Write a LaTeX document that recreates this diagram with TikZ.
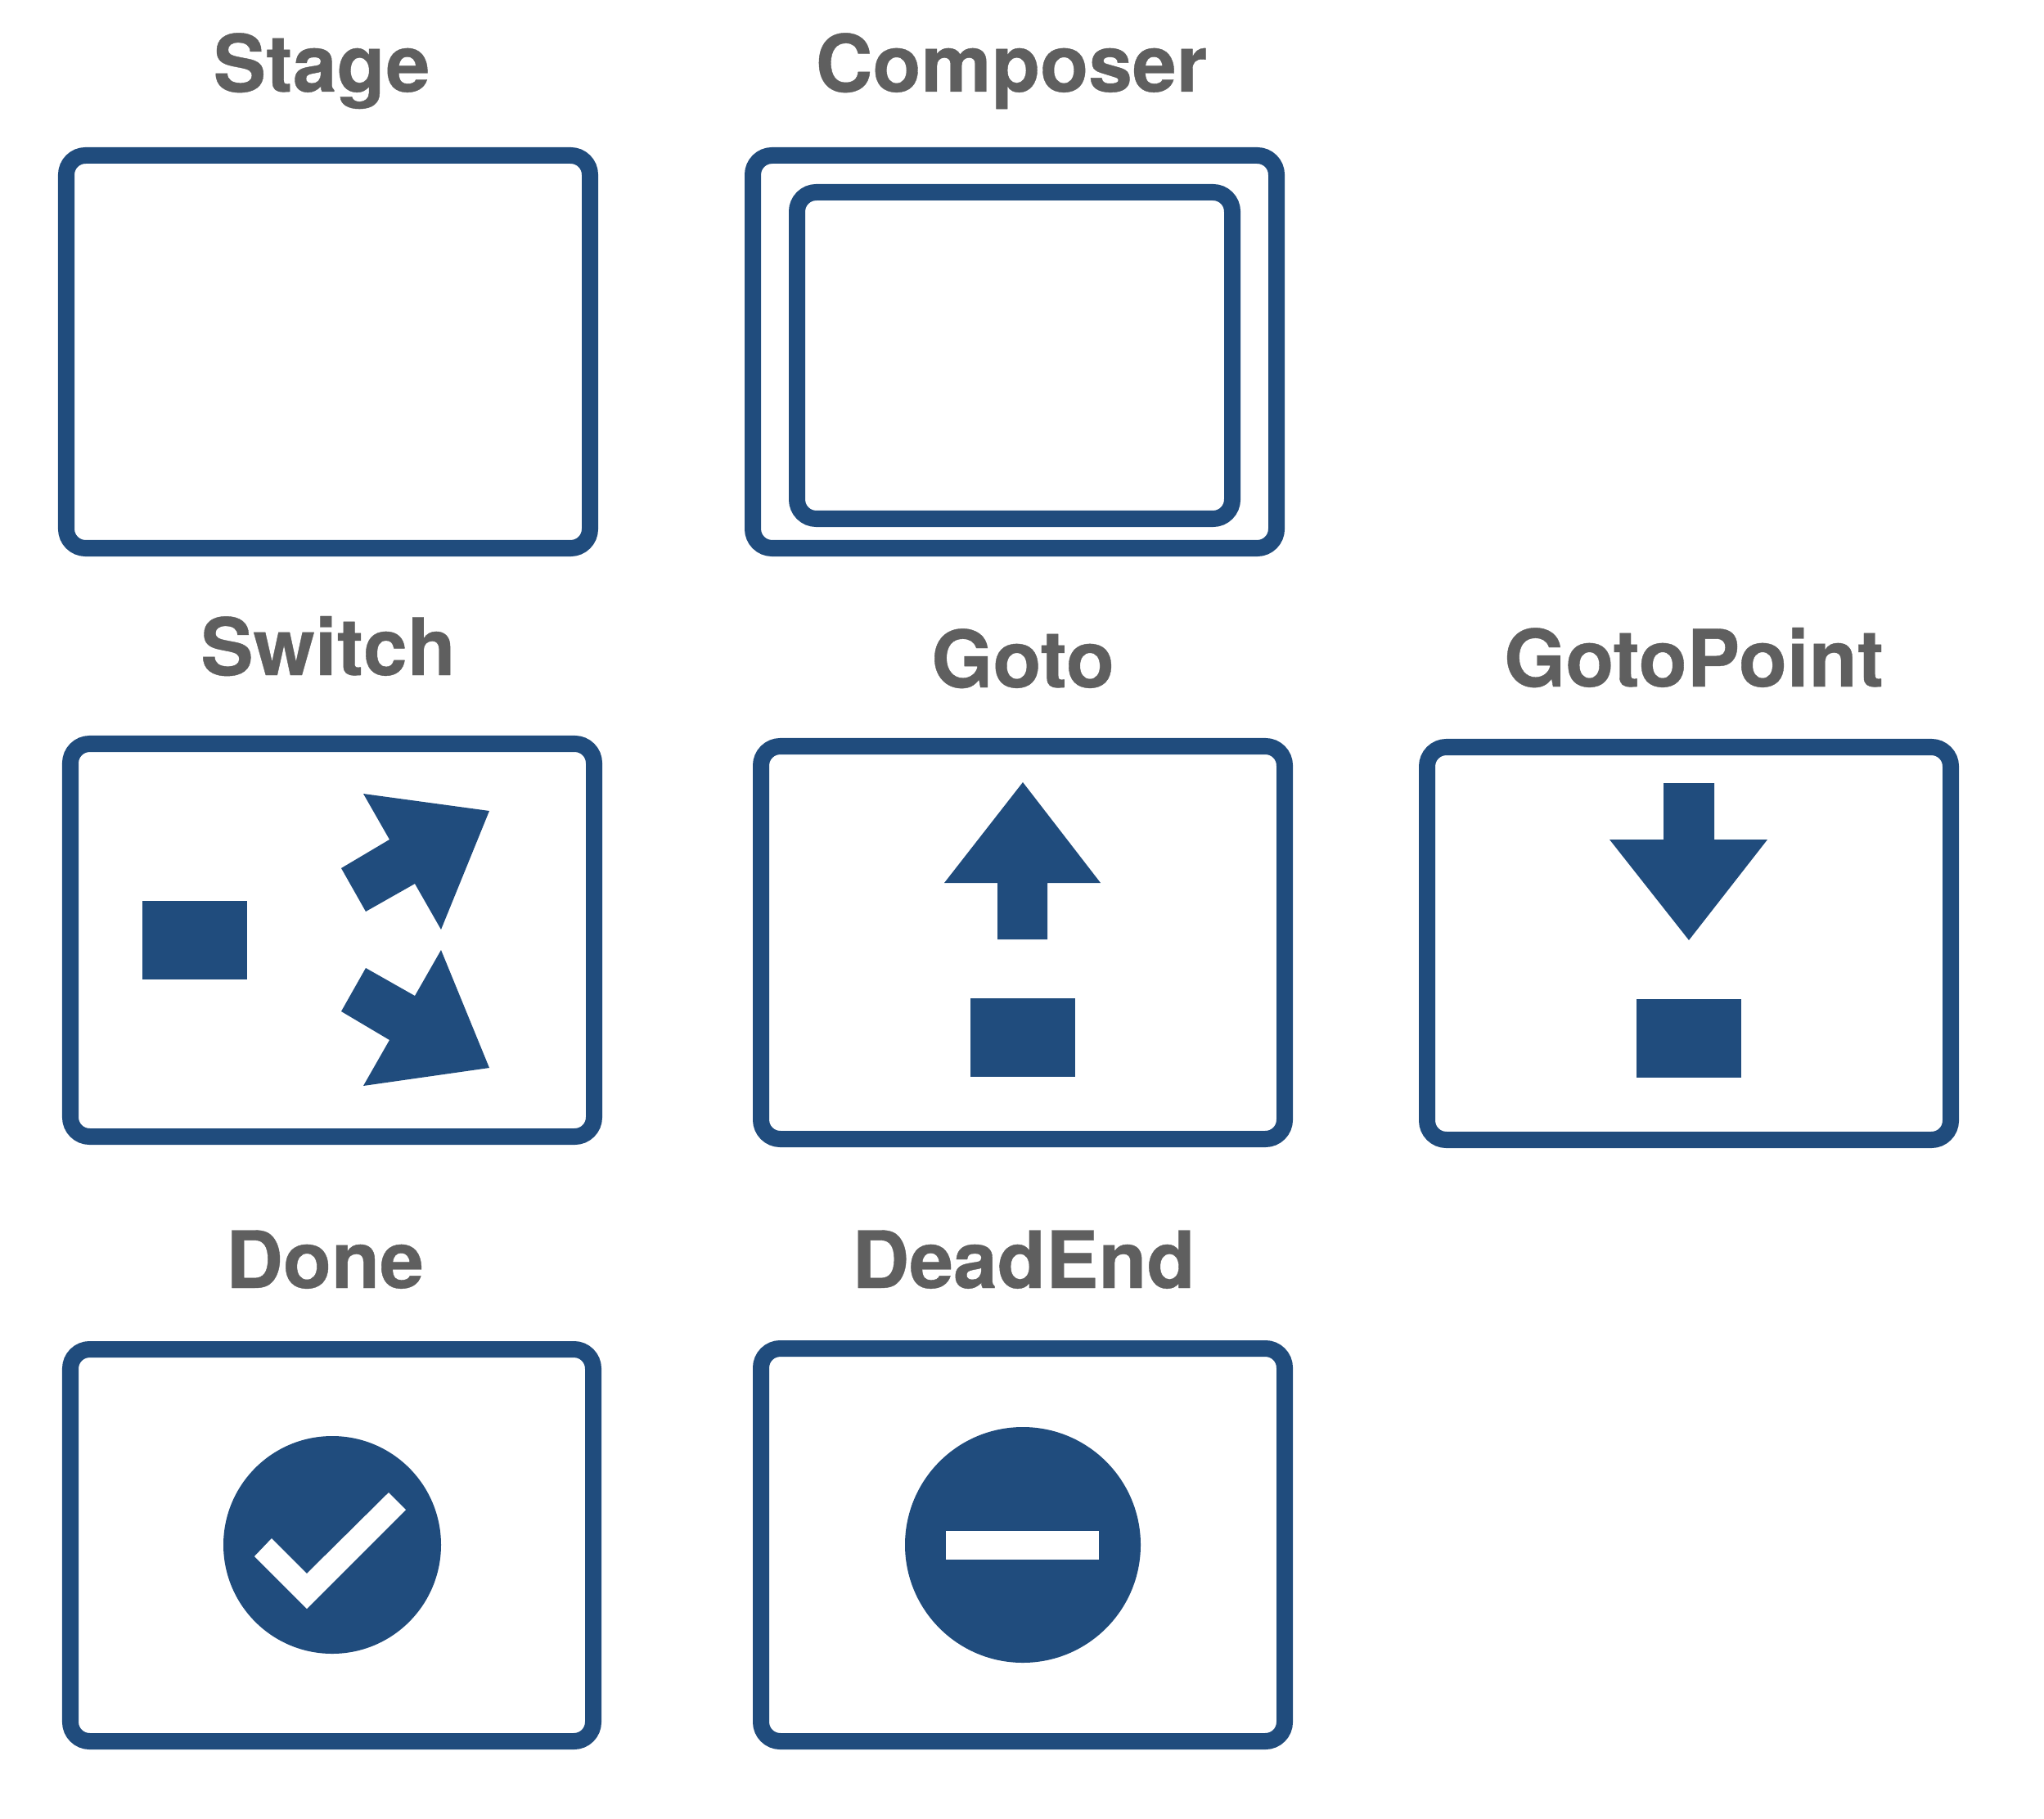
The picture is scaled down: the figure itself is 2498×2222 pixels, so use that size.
\documentclass[tikz,border=0pt]{standalone}
\usepackage{fontspec}
\setmainfont{TeX Gyre Heros}
\definecolor{panel-blue}{HTML}{204C7D}
\definecolor{title-grey}{HTML}{5F5F5F}

\begin{document}
\begin{tikzpicture}[
    x=0.01cm,
    y=-0.01cm,
    panel/.style={ draw=panel-blue, line width=0.2cm, rounded corners=0.235cm, },
    glyph/.style={ fill=panel-blue, },
    cutout/.style={ fill=white, },
    title/.style={ anchor=base, text=title-grey, inner sep=0pt, font=\fontsize{27.5}{30}\selectfont\bfseries\addfontfeature{FakeBold=0.4}, },
]
\useasboundingbox (0,0) rectangle (2498,2222);

\foreach \name/\x/\y in {Stage/393/112, Composer/1236/112, Switch/401/825, Goto/1250/840,
    GotoPoint/2070/839, Done/397/1574, DeadEnd/1251/1574}
{ \node[title] (\name) at (\x,\y) {\name}; }

\foreach \l/\t/\r/\b in {81/190/721/670, 920/190/1560/670, 974/235/1506/634,
    86/909/726/1389, 930/912/1570/1392, 1744/913/2384/1393,
    86/1649/725/2128, 930/1648/1570/2128}
{ \draw[panel] (\l,\t) rectangle (\r,\b); }

% squares
\foreach \l/\t in {174/1101, 1186/1220, 2000/1221}
{ \fill[glyph] (\l,\t) rectangle ++(128,96); }

% Switch
\fill[glyph] (444,970) -- (598,991) -- (539,1136) -- (507,1080) -- (447,1114) -- (417,1061) -- (476,1026) -- cycle;
\fill[glyph] (539,1161) -- (598,1305) -- (444,1327) -- (476,1271) -- (417,1236) -- (447,1183) -- (507,1217) -- cycle;

% Goto
\fill[glyph] (1250,956) -- (1345,1079) -- (1280,1079) -- (1280,1148) -- (1219,1148) -- (1219,1079) -- (1154,1079) -- cycle;

% GotoPoint
\fill[glyph] (2033,957) -- (2095,957) -- (2095,1026) -- (2160,1026) -- (2064,1149) -- (1967,1026) -- (2033,1026) -- cycle;

% Done
\fill[glyph] (406,1888) circle[radius=133];
\fill[cutout] (332,1880) -- (375,1923) -- (475,1824) -- (496,1845) -- (375,1966) -- (311,1902) -- cycle;

% DeadEnd
\fill[glyph] (1250,1888) circle[radius=144];
\fill[cutout] (1156,1871) rectangle (1343,1906);
\end{tikzpicture}
\end{document}
